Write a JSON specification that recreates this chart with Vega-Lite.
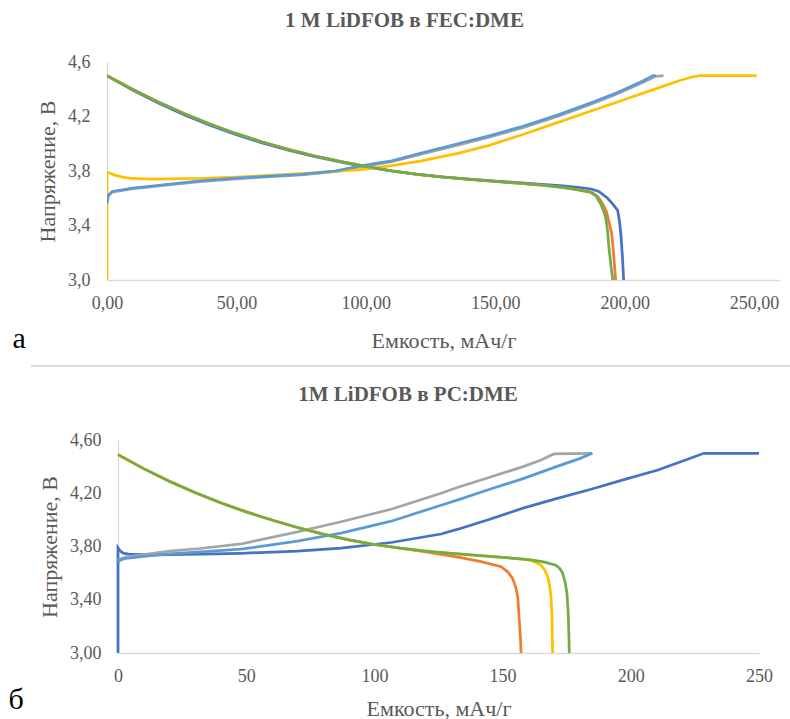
{
  "$schema": "https://vega.github.io/schema/vega-lite/v6.json",
  "padding": {"left": 8, "top": 10, "right": 0, "bottom": 0},
  "background": "#ffffff",
  "align": "none",
  "spacing": 10,
  "datasets": {
    "a": [
      {"s":"1","x":0,"y":4.5},{"s":"1","x":10,"y":4.392},{"s":"1","x":20,"y":4.297},{"s":"1","x":30,"y":4.211},{"s":"1","x":40,"y":4.134},{"s":"1","x":50,"y":4.066},{"s":"1","x":60,"y":4.006},{"s":"1","x":70,"y":3.953},{"s":"1","x":80,"y":3.907},{"s":"1","x":90,"y":3.867},{"s":"1","x":100,"y":3.831},{"s":"1","x":110,"y":3.80},{"s":"1","x":120,"y":3.775},{"s":"1","x":130,"y":3.756},{"s":"1","x":140,"y":3.74},{"s":"1","x":150,"y":3.726},{"s":"1","x":160,"y":3.713},{"s":"1","x":168,"y":3.702},{"s":"1","x":176,"y":3.69},{"s":"1","x":182,"y":3.68},{"s":"1","x":187,"y":3.668},{"s":"1","x":190,"y":3.65},{"s":"1","x":193.4,"y":3.60},{"s":"1","x":195.5,"y":3.555},{"s":"1","x":197.3,"y":3.51},{"s":"1","x":198,"y":3.43},{"s":"1","x":198.5,"y":3.34},{"s":"1","x":199.1,"y":3.18},{"s":"1","x":199.6,"y":3.0},
      {"s":"2","x":0,"y":4.5},{"s":"2","x":10,"y":4.398},{"s":"2","x":20,"y":4.305},{"s":"2","x":30,"y":4.22},{"s":"2","x":40,"y":4.143},{"s":"2","x":50,"y":4.074},{"s":"2","x":60,"y":4.013},{"s":"2","x":70,"y":3.959},{"s":"2","x":80,"y":3.912},{"s":"2","x":90,"y":3.871},{"s":"2","x":100,"y":3.834},{"s":"2","x":110,"y":3.801},{"s":"2","x":120,"y":3.775},{"s":"2","x":130,"y":3.755},{"s":"2","x":140,"y":3.738},{"s":"2","x":150,"y":3.723},{"s":"2","x":160,"y":3.709},{"s":"2","x":168,"y":3.696},{"s":"2","x":176,"y":3.679},{"s":"2","x":182,"y":3.663},{"s":"2","x":187,"y":3.645},{"s":"2","x":189.5,"y":3.615},{"s":"2","x":191.5,"y":3.56},{"s":"2","x":193,"y":3.50},{"s":"2","x":194,"y":3.42},{"s":"2","x":195,"y":3.34},{"s":"2","x":195.8,"y":3.17},{"s":"2","x":196.5,"y":3.0},
      {"s":"3","x":0,"y":3.58},{"s":"3","x":0.5,"y":3.62},{"s":"3","x":2,"y":3.645},{"s":"3","x":10,"y":3.67},{"s":"3","x":20,"y":3.69},{"s":"3","x":36,"y":3.722},{"s":"3","x":50,"y":3.743},{"s":"3","x":75,"y":3.772},{"s":"3","x":88,"y":3.795},{"s":"3","x":98,"y":3.83},{"s":"3","x":110,"y":3.868},{"s":"3","x":121,"y":3.922},{"s":"3","x":135.5,"y":3.99},{"s":"3","x":148,"y":4.05},{"s":"3","x":161,"y":4.12},{"s":"3","x":174,"y":4.20},{"s":"3","x":187,"y":4.29},{"s":"3","x":197,"y":4.365},{"s":"3","x":207,"y":4.45},{"s":"3","x":212,"y":4.495},{"s":"3","x":215,"y":4.5},
      {"s":"4","x":0,"y":3.0},{"s":"4","x":0,"y":3.79},{"s":"4","x":1,"y":3.785},{"s":"4","x":3,"y":3.77},{"s":"4","x":6,"y":3.755},{"s":"4","x":10,"y":3.745},{"s":"4","x":17,"y":3.74},{"s":"4","x":36,"y":3.745},{"s":"4","x":50,"y":3.755},{"s":"4","x":75,"y":3.78},{"s":"4","x":98,"y":3.81},{"s":"4","x":110,"y":3.84},{"s":"4","x":121,"y":3.873},{"s":"4","x":135.5,"y":3.93},{"s":"4","x":148,"y":3.99},{"s":"4","x":161,"y":4.07},{"s":"4","x":174,"y":4.155},{"s":"4","x":187,"y":4.24},{"s":"4","x":200,"y":4.325},{"s":"4","x":213,"y":4.41},{"s":"4","x":221,"y":4.462},{"s":"4","x":226,"y":4.49},{"s":"4","x":229.3,"y":4.5},{"s":"4","x":251,"y":4.5},
      {"s":"5","x":0,"y":3.56},{"s":"5","x":0.5,"y":3.62},{"s":"5","x":2,"y":3.65},{"s":"5","x":10,"y":3.675},{"s":"5","x":20,"y":3.695},{"s":"5","x":36,"y":3.727},{"s":"5","x":50,"y":3.748},{"s":"5","x":75,"y":3.776},{"s":"5","x":88,"y":3.80},{"s":"5","x":98,"y":3.837},{"s":"5","x":110,"y":3.875},{"s":"5","x":121,"y":3.93},{"s":"5","x":135.5,"y":4.0},{"s":"5","x":148,"y":4.06},{"s":"5","x":161,"y":4.13},{"s":"5","x":174,"y":4.21},{"s":"5","x":187,"y":4.30},{"s":"5","x":197,"y":4.375},{"s":"5","x":207,"y":4.46},{"s":"5","x":211,"y":4.5},{"s":"5","x":212,"y":4.5},
      {"s":"6","x":0,"y":4.5},{"s":"6","x":10,"y":4.398},{"s":"6","x":20,"y":4.305},{"s":"6","x":30,"y":4.22},{"s":"6","x":40,"y":4.143},{"s":"6","x":50,"y":4.074},{"s":"6","x":60,"y":4.013},{"s":"6","x":70,"y":3.959},{"s":"6","x":80,"y":3.912},{"s":"6","x":90,"y":3.871},{"s":"6","x":100,"y":3.834},{"s":"6","x":110,"y":3.801},{"s":"6","x":120,"y":3.775},{"s":"6","x":130,"y":3.755},{"s":"6","x":140,"y":3.738},{"s":"6","x":150,"y":3.723},{"s":"6","x":160,"y":3.709},{"s":"6","x":168,"y":3.696},{"s":"6","x":176,"y":3.679},{"s":"6","x":182,"y":3.662},{"s":"6","x":187,"y":3.642},{"s":"6","x":189,"y":3.615},{"s":"6","x":190.7,"y":3.56},{"s":"6","x":192,"y":3.50},{"s":"6","x":192.7,"y":3.455},{"s":"6","x":193.4,"y":3.36},{"s":"6","x":193.8,"y":3.26},{"s":"6","x":194.6,"y":3.12},{"s":"6","x":195.4,"y":3.0}
    ],
    "b": [
      {"s":"1","x":0,"y":3.0},{"s":"1","x":0,"y":3.79},{"s":"1","x":0.7,"y":3.77},{"s":"1","x":2,"y":3.75},{"s":"1","x":5,"y":3.74},{"s":"1","x":15,"y":3.737},{"s":"1","x":32,"y":3.742},{"s":"1","x":48,"y":3.749},{"s":"1","x":70,"y":3.765},{"s":"1","x":87,"y":3.787},{"s":"1","x":106.5,"y":3.83},{"s":"1","x":126,"y":3.894},{"s":"1","x":132.6,"y":3.93},{"s":"1","x":145,"y":4.005},{"s":"1","x":158.3,"y":4.09},{"s":"1","x":171,"y":4.16},{"s":"1","x":184.5,"y":4.23},{"s":"1","x":197,"y":4.30},{"s":"1","x":210.6,"y":4.375},{"s":"1","x":220,"y":4.44},{"s":"1","x":228.5,"y":4.5},{"s":"1","x":250,"y":4.5},
      {"s":"2","x":0,"y":4.49},{"s":"2","x":10,"y":4.385},{"s":"2","x":20,"y":4.29},{"s":"2","x":30,"y":4.205},{"s":"2","x":40,"y":4.129},{"s":"2","x":50,"y":4.06},{"s":"2","x":60,"y":3.999},{"s":"2","x":70,"y":3.943},{"s":"2","x":80,"y":3.893},{"s":"2","x":90,"y":3.85},{"s":"2","x":100,"y":3.815},{"s":"2","x":110,"y":3.788},{"s":"2","x":120,"y":3.76},{"s":"2","x":132.6,"y":3.72},{"s":"2","x":141.6,"y":3.686},{"s":"2","x":149.4,"y":3.648},{"s":"2","x":152,"y":3.61},{"s":"2","x":153.9,"y":3.56},{"s":"2","x":155.2,"y":3.49},{"s":"2","x":155.9,"y":3.42},{"s":"2","x":156.5,"y":3.25},{"s":"2","x":157,"y":3.1},{"s":"2","x":157.2,"y":3.0},
      {"s":"3","x":0,"y":3.70},{"s":"3","x":3,"y":3.72},{"s":"3","x":10,"y":3.74},{"s":"3","x":20,"y":3.765},{"s":"3","x":32,"y":3.785},{"s":"3","x":48,"y":3.819},{"s":"3","x":70,"y":3.91},{"s":"3","x":87,"y":3.986},{"s":"3","x":106.5,"y":4.08},{"s":"3","x":126,"y":4.20},{"s":"3","x":132.6,"y":4.245},{"s":"3","x":145,"y":4.32},{"s":"3","x":158,"y":4.40},{"s":"3","x":165,"y":4.45},{"s":"3","x":170,"y":4.495},{"s":"3","x":185,"y":4.5},
      {"s":"4","x":0,"y":4.49},{"s":"4","x":10,"y":4.385},{"s":"4","x":20,"y":4.29},{"s":"4","x":30,"y":4.205},{"s":"4","x":40,"y":4.129},{"s":"4","x":50,"y":4.06},{"s":"4","x":60,"y":3.999},{"s":"4","x":70,"y":3.943},{"s":"4","x":80,"y":3.893},{"s":"4","x":90,"y":3.85},{"s":"4","x":100,"y":3.815},{"s":"4","x":110,"y":3.788},{"s":"4","x":120,"y":3.766},{"s":"4","x":130,"y":3.748},{"s":"4","x":140,"y":3.733},{"s":"4","x":150,"y":3.719},{"s":"4","x":158,"y":3.705},{"s":"4","x":161,"y":3.695},{"s":"4","x":163,"y":3.68},{"s":"4","x":165,"y":3.66},{"s":"4","x":166.5,"y":3.62},{"s":"4","x":167.6,"y":3.573},{"s":"4","x":168.4,"y":3.50},{"s":"4","x":168.9,"y":3.42},{"s":"4","x":169.3,"y":3.25},{"s":"4","x":169.5,"y":3.0},
      {"s":"5","x":0,"y":3.68},{"s":"5","x":1,"y":3.70},{"s":"5","x":3,"y":3.71},{"s":"5","x":10,"y":3.725},{"s":"5","x":20,"y":3.745},{"s":"5","x":32,"y":3.76},{"s":"5","x":48,"y":3.78},{"s":"5","x":70,"y":3.84},{"s":"5","x":87,"y":3.90},{"s":"5","x":106.5,"y":3.99},{"s":"5","x":126,"y":4.11},{"s":"5","x":132.6,"y":4.15},{"s":"5","x":145,"y":4.23},{"s":"5","x":158,"y":4.31},{"s":"5","x":171,"y":4.40},{"s":"5","x":180,"y":4.46},{"s":"5","x":185,"y":4.5},
      {"s":"6","x":0,"y":4.49},{"s":"6","x":10,"y":4.385},{"s":"6","x":20,"y":4.29},{"s":"6","x":30,"y":4.205},{"s":"6","x":40,"y":4.129},{"s":"6","x":50,"y":4.06},{"s":"6","x":60,"y":3.999},{"s":"6","x":70,"y":3.943},{"s":"6","x":80,"y":3.893},{"s":"6","x":90,"y":3.85},{"s":"6","x":100,"y":3.815},{"s":"6","x":110,"y":3.788},{"s":"6","x":120,"y":3.766},{"s":"6","x":130,"y":3.748},{"s":"6","x":140,"y":3.733},{"s":"6","x":150,"y":3.719},{"s":"6","x":158,"y":3.705},{"s":"6","x":161,"y":3.70},{"s":"6","x":166,"y":3.685},{"s":"6","x":170.8,"y":3.66},{"s":"6","x":172.3,"y":3.635},{"s":"6","x":173.4,"y":3.60},{"s":"6","x":174.4,"y":3.53},{"s":"6","x":175.1,"y":3.45},{"s":"6","x":175.6,"y":3.30},{"s":"6","x":175.9,"y":3.1},{"s":"6","x":176,"y":3.0}
    ]
  },
  "vconcat": [
    {
      "title": {"text": "а", "orient": "bottom", "anchor": "start", "fontSize": 30, "fontWeight": "normal", "color": "#000000", "dx": -24, "dy": -31},
      "vconcat": [
        {
          "title": {"text": "1 M LiDFOB в FEC:DME", "anchor": "middle", "frame": "group", "dx": -39, "offset": 22},
          "width": 673,
          "height": 218,
          "data": {"name": "a"},
          "mark": {"type": "line", "strokeWidth": 2.75, "clip": true},
          "encoding": {
            "x": {"field": "x", "type": "quantitative", "scale": {"domain": [0, 260], "nice": false, "zero": false},
                  "axis": {"values": [0, 50, 100, 150, 200, 250], "labelFlush": false, "labelExpr": "replace(format(datum.value, '.2f'), '.', ',')", "title": "Емкость, мАч/г", "labelPadding": 14, "titlePadding": 18}},
            "y": {"field": "y", "type": "quantitative", "scale": {"domain": [3, 4.6], "nice": false, "zero": false},
                  "axis": {"values": [3, 3.4, 3.8, 4.2, 4.6], "labelExpr": "replace(format(datum.value, '.1f'), '.', ',')", "title": "Напряжение, В", "labelPadding": 17, "titlePadding": 8}},
            "color": {"field": "s", "type": "nominal", "scale": {"domain": ["1","2","3","4","5","6"], "range": ["#4472C4","#ED7D31","#A5A5A5","#FFC000","#5B9BD5","#70AD47"]}, "legend": null},
            "order": {"value": null}
          }
        }
      ]
    },
    {
      "width": 684,
      "height": 10,
      "data": {"values": [{}]},
      "mark": {"type": "rule", "color": "#D9D9D9", "strokeWidth": 2},
      "encoding": {
        "x": {"datum": 0, "type": "quantitative", "scale": {"domain": [0, 1], "range": [-76, 684]}, "axis": null},
        "x2": {"datum": 1},
        "y": {"datum": 0.8, "type": "quantitative", "scale": {"domain": [0, 1]}, "axis": null}
      }
    },
    {
      "title": {"text": "б", "orient": "bottom", "anchor": "start", "fontSize": 30, "fontWeight": "normal", "color": "#000000", "dx": -30, "dy": -38},
      "vconcat": [
        {
          "title": {"text": "1M LiDFOB в PC:DME", "anchor": "middle", "frame": "group", "dx": -25, "offset": 26},
          "width": 652,
          "height": 213,
          "data": {"name": "b"},
          "mark": {"type": "line", "strokeWidth": 2.75, "clip": true},
          "encoding": {
            "x": {"field": "x", "type": "quantitative", "scale": {"domain": [0, 250], "range": [11, 652], "nice": false, "zero": false},
                  "axis": {"values": [0, 50, 100, 150, 200, 250], "labelFlush": false, "format": "d", "title": "Емкость, мАч/г", "labelPadding": 14, "titlePadding": 13}},
            "y": {"field": "y", "type": "quantitative", "scale": {"domain": [3, 4.6], "nice": false, "zero": false},
                  "axis": {"offset": -11, "values": [3, 3.4, 3.8, 4.2, 4.6], "labelExpr": "replace(format(datum.value, '.2f'), '.', ',')", "title": "Напряжение, В", "labelPadding": 17, "titlePadding": 8}},
            "color": {"field": "s", "type": "nominal", "scale": {"domain": ["1","2","3","4","5","6"], "range": ["#4472C4","#ED7D31","#A5A5A5","#FFC000","#5B9BD5","#70AD47"]}, "legend": null},
            "order": {"value": null}
          }
        }
      ]
    }
  ],
  "config": {
    "font": "Liberation Serif",
    "view": {"stroke": null},
    "axis": {"domainColor": "#D9D9D9", "domainWidth": 1.3, "ticks": false, "tickSize": 0, "grid": false, "labelColor": "#595959", "labelFontSize": 18, "labelFont": "Liberation Serif", "titleColor": "#595959", "titleFont": "Liberation Serif", "titleFontSize": 22, "titleFontWeight": "normal"},
    "title": {"font": "Liberation Serif", "fontSize": 21, "fontWeight": "bold", "color": "#595959"}
  }
}
